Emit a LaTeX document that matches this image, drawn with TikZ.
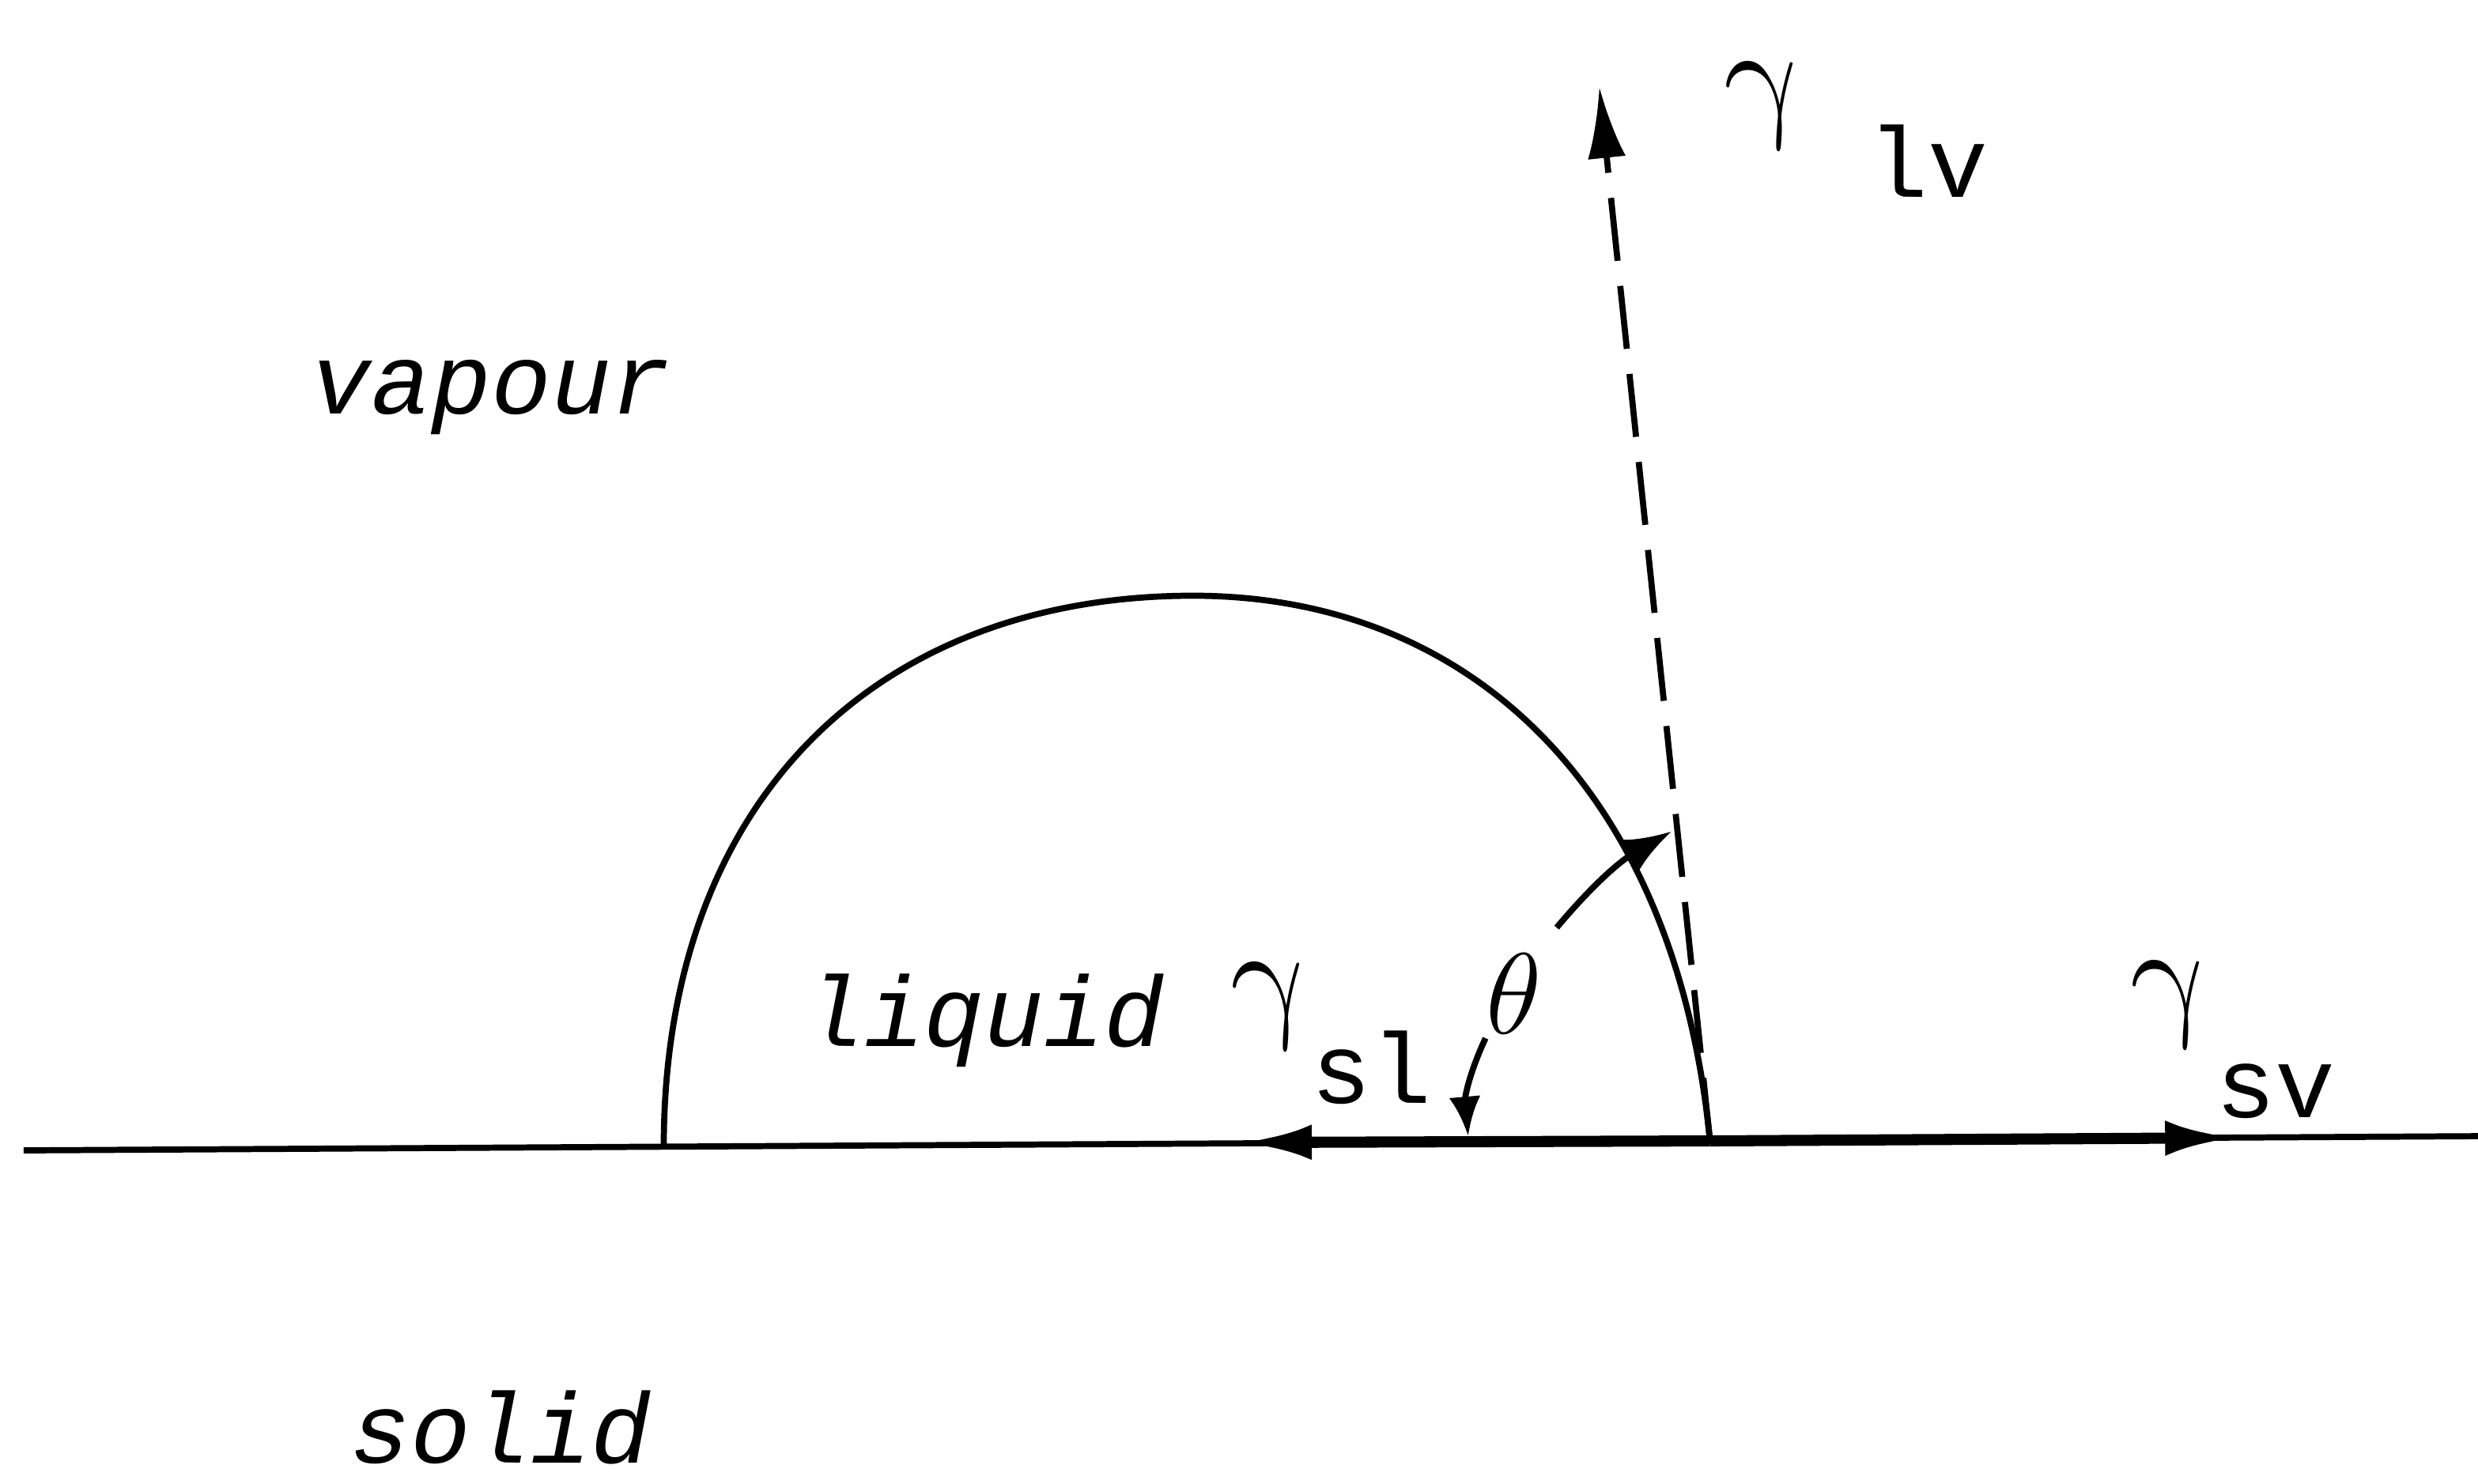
\documentclass[tikz,border=0pt]{standalone}
\usepackage{fontspec}
\setmonofont{Liberation Mono}
\usetikzlibrary{arrows.meta}

\begin{document}
\begin{tikzpicture}[
    line width=1.1pt,
    phase/.style={font=\fontsize{18}{20}\selectfont\ttfamily\itshape, anchor=base west, inner sep=0pt},
    sym/.style={font=\fontsize{30}{32}\selectfont, inner sep=0pt, transform shape, xslant=-0.2},
    sub/.style={font=\fontsize{18}{20}\selectfont\ttfamily, anchor=base west, inner sep=0pt},
    vec/.style={-{Latex[length=4.5mm, width=2.2mm]}, line width=2pt},
    dashvec/.style={-{Latex[length=4.5mm, width=2.4mm]}, dash pattern=on 4mm off 1.6mm}
]
  \useasboundingbox (0,0) rectangle (15.68,9.39);

  % surface and drop
  \coordinate (left)  at (0.15,2.11);
  \coordinate (right) at (15.68,2.20);
  \coordinate (foot)  at (4.20,2.13);
  \coordinate (top)   at (7.55,5.62);
  \coordinate (cp)    at (10.82,2.17);
  \draw (left) -- (right);
  \draw (foot) .. controls (4.20,4.33) and (5.55,5.62) .. (top)
               .. controls (9.30,5.62) and (10.60,4.40) .. (cp);

  % force vectors
  \coordinate (sl) at (7.85,2.16);
  \coordinate (sv) at (14.15,2.19);
  \coordinate (lv) at (10.12,8.84);
  \draw[vec] (cp) -- (sl);
  \draw[vec] (cp) -- (sv);
  \draw[dashvec] (cp) -- (lv);

  % phases
  \node[phase] (vapour) at (1.95,6.77) {vapour};
  \node[phase] (liquid) at (5.07,2.77) {liquid};
  \node[phase] (solid)  at (2.20,0.13) {solid};

  % tensions
  \node[sym] (gsl) at (8.06,3.02) {$\gamma$};
  \node[sub] (gslsub) at (8.28,2.41) {sl};
  \node[sym] (gsv) at (13.75,3.03) {$\gamma$};
  \node[sub] (gsvsub) at (14.00,2.32) {sv};
  \node[sym] (glv) at (11.18,8.72) {$\gamma$};
  \node[sub] (glvsub) at (11.80,8.14) {lv};

  % contact angle
  \node[inner sep=0pt, font=\fontsize{22}{24}\selectfont] (theta) at (9.58,3.10) {$\theta$};
  \coordinate (tha) at (9.85,3.52);
  \coordinate (thb) at (10.58,4.13);
  \coordinate (thc) at (9.40,2.82);
  \coordinate (thd) at (9.29,2.20);
  \draw[-{Latex[length=3mm, width=2.2mm]}] (tha) to[bend left=10] (thb);
  \draw[-{Latex[length=2.5mm, width=2mm]}] (thc) to[bend right=15] (thd);
\end{tikzpicture}
\end{document}
